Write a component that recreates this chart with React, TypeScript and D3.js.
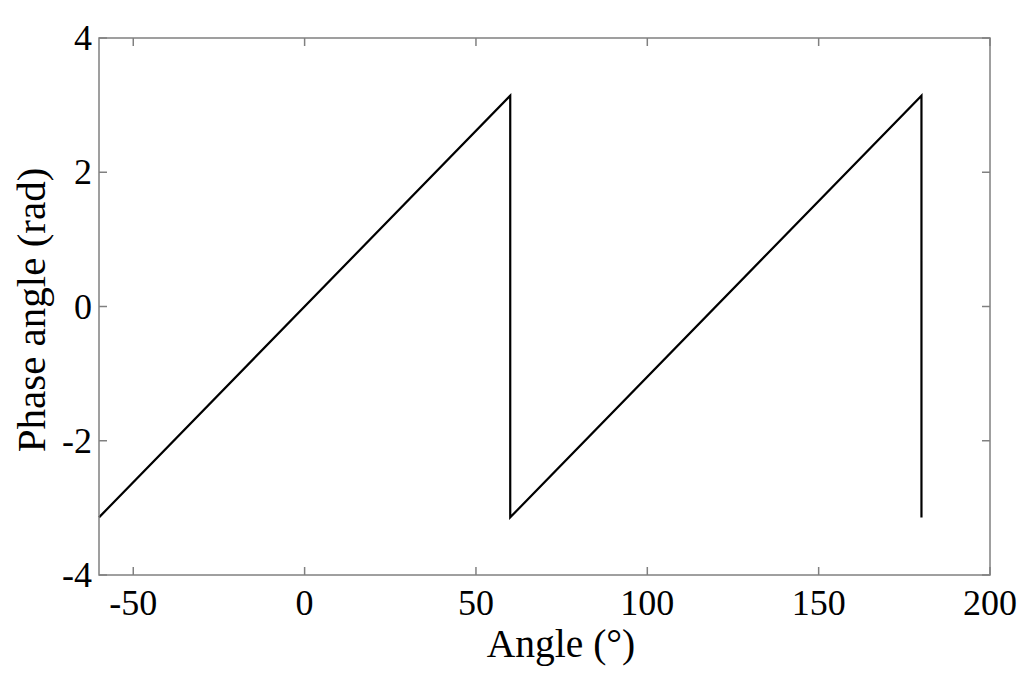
import React from "react";
import * as d3 from "d3";

const angleDeg = [-60, 60, 60, 180, 180];
const phaseRad = [-Math.PI, Math.PI, -Math.PI, Math.PI, -Math.PI];
const xTicks = [-50, 0, 50, 100, 150, 200];
const yTicks = [-4, -2, 0, 2, 4];

export default function App() {
  const W = 1024, H = 687;
  const m = { left: 99, right: 990, top: 38, bottom: 575 };
  const x = d3.scaleLinear().domain([-60, 200]).range([m.left, m.right]);
  const y = d3.scaleLinear().domain([-4, 4]).range([m.bottom, m.top]);
  const pts: [number, number][] = angleDeg.map((a, i) => [a, phaseRad[i]]);
  const line = d3.line<[number, number]>().x((d) => x(d[0])).y((d) => y(d[1]));
  const font = "'Liberation Serif', 'Times New Roman', serif";
  const axisColor = "#808080";
  const tl = 8;
  return (
    <svg width={W} height={H} style={{ position: "absolute", left: 0, top: 0 }} fontFamily={font}>
      <rect x={0} y={0} width={W} height={H} fill="#fff" />
      <path d={line(pts) || ""} fill="none" stroke="#000" strokeWidth={2.2} />
      <rect x={m.left} y={m.top} width={m.right - m.left} height={m.bottom - m.top} fill="none" stroke={axisColor} strokeWidth={1.5} />
      {xTicks.map((t) => (
        <g key={"x" + t}>
          <line x1={x(t)} x2={x(t)} y1={m.bottom} y2={m.bottom - tl} stroke={axisColor} strokeWidth={1.5} />
          <line x1={x(t)} x2={x(t)} y1={m.top} y2={m.top + tl} stroke={axisColor} strokeWidth={1.5} />
          <text x={x(t)} y={615} textAnchor="middle" fontSize={36} fill="#000">{t}</text>
        </g>
      ))}
      {yTicks.map((t) => (
        <g key={"y" + t}>
          <line x1={m.left} x2={m.left + tl} y1={y(t)} y2={y(t)} stroke={axisColor} strokeWidth={1.5} />
          <line x1={m.right} x2={m.right - tl} y1={y(t)} y2={y(t)} stroke={axisColor} strokeWidth={1.5} />
          <text x={92} y={y(t) + 12} textAnchor="end" fontSize={36} fill="#000">{t}</text>
        </g>
      ))}
      <text x={561} y={657} textAnchor="middle" fontSize={39.5} fill="#000">Angle (°)</text>
      <text transform={`translate(45, 310) rotate(-90)`} textAnchor="middle" fontSize={41} fill="#000">Phase angle (rad)</text>
    </svg>
  );
}
